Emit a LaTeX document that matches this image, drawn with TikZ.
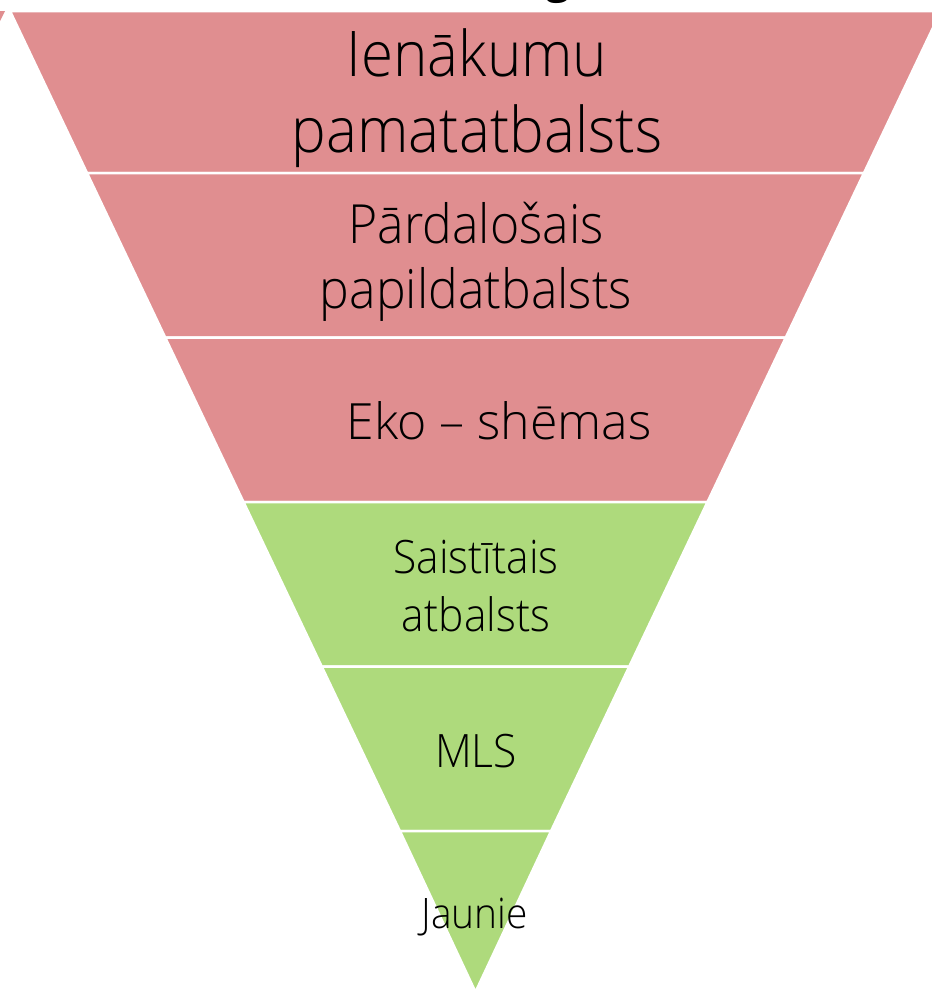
\documentclass[tikz,border=0pt]{standalone}
\usepackage{fontspec}
\setmainfont{Open Sans}[UprightFont=* Light, FakeStretch=0.925]
\newfontfamily\plainlight{Open Sans}[UprightFont=* Light]
\newfontfamily\titlefont{Open Sans}
\definecolor{pinkband}{HTML}{E08E90}
\definecolor{greenband}{HTML}{AEDA7C}
\begin{document}
\begin{tikzpicture}[x=1pt,y=-1pt,
  band/.style={line width=2.5pt, draw=white, line join=miter},
  pinkfill/.style={band, fill=pinkband},
  greenfill/.style={band, fill=greenband},
  lbl/.style={anchor=base, inner sep=0pt, text=black}]
\useasboundingbox (0,0) rectangle (932,989);
% bands
\path[pinkfill]  (10,11) -- (941,11) -- (864,173) -- (87,173) -- cycle;
\path[pinkfill]  (87,173) -- (864,173) -- (785.8,337.5) -- (165.2,337.5) -- cycle;
\path[pinkfill]  (165.2,337.5) -- (785.8,337.5) -- (707.5,502) -- (243.5,502) -- cycle;
\path[greenfill] (243.5,502) -- (707.5,502) -- (629.3,666.5) -- (321.7,666.5) -- cycle;
\path[greenfill] (321.7,666.5) -- (629.3,666.5) -- (551.1,831) -- (399.9,831) -- cycle;
\path[greenfill] (399.9,831) -- (551.1,831) -- (475.5,992) -- cycle;
% sliver of neighbouring shape, top left
\fill[pinkband] (0,11) -- (5,11) -- (0,21) -- cycle;
% cut-off title glyph
\node[lbl, font=\titlefont\bfseries\fontsize{42}{48}\selectfont] (gfrag) at (558,-6.5) {g};
% labels
\node[lbl, font=\fontsize{63}{74}\selectfont] (t1a) at (477,76) {Ienākumu};
\node[lbl, font=\fontsize{63}{74}\selectfont] (t1b) at (477,152) {pamatatbalsts};
\node[lbl, font=\fontsize{54}{64}\selectfont] (t2a) at (476,243) {Pārdalošais};
\node[lbl, font=\fontsize{54}{64}\selectfont] (t2b) at (476,308) {papildatbalsts};
\node[lbl, font=\plainlight\fontsize{50}{60}\selectfont] (t3) at (499,439) {Eko – shēmas};
\node[lbl, font=\fontsize{46}{56}\selectfont] (t4a) at (476,573) {Saistītais};
\node[lbl, font=\fontsize{46}{56}\selectfont] (t4b) at (476,631) {atbalsts};
\node[lbl, font=\fontsize{46}{56}\selectfont] (t5) at (476,767) {MLS};
\node[lbl, font=\fontsize{42}{50}\selectfont] (t6) at (474.5,928) {Jaunie};
\end{tikzpicture}
\end{document}
